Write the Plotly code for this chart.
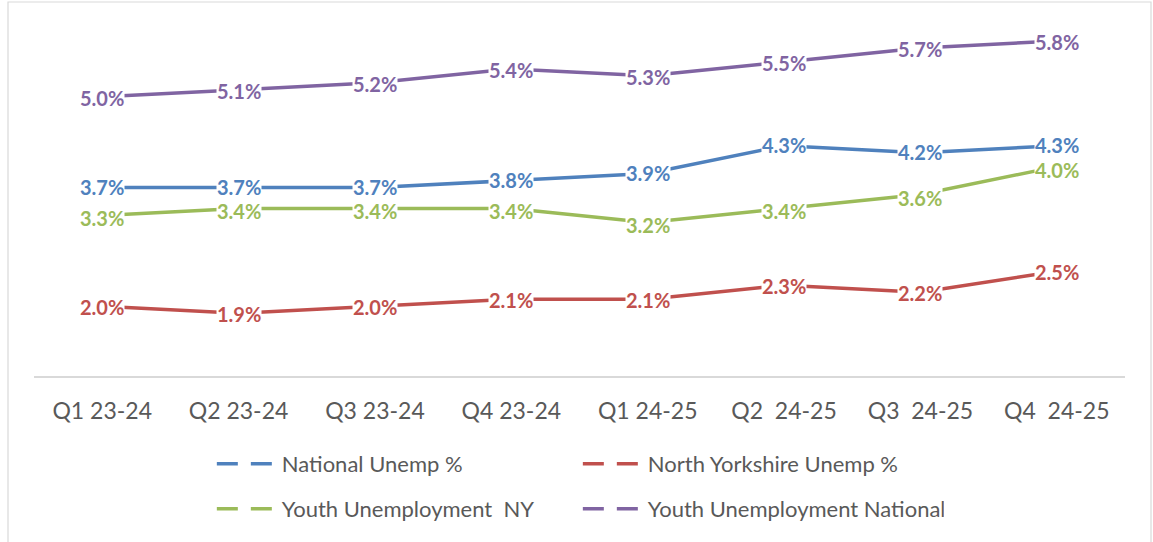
import plotly.graph_objects as go

categories = ["Q1 23-24", "Q2 23-24", "Q3 23-24", "Q4 23-24", "Q1 24-25",
              "Q2  24-25", "Q3  24-25", "Q4  24-25"]
national = [3.7, 3.7, 3.7, 3.8, 3.9, 4.3, 4.2, 4.3]
north_yorks = [2.0, 1.9, 2.0, 2.1, 2.1, 2.3, 2.2, 2.5]
youth_ny = [3.3, 3.4, 3.4, 3.4, 3.2, 3.4, 3.6, 4.0]
youth_nat = [5.0, 5.1, 5.2, 5.4, 5.3, 5.5, 5.7, 5.8]

series = [
    ("National Unemp %", national, "#4F81BD", "legend", 1),
    ("North Yorkshire Unemp %", north_yorks, "#C0504D", "legend", -1),
    ("Youth Unemployment  NY", youth_ny, "#9BBB59", "legend2", -3),
    ("Youth Unemployment National", youth_nat, "#8064A2", "legend2", -1),
]

fig = go.Figure()
annotations = []
for name, vals, color, leg, ys in series:
    fig.add_trace(go.Scatter(x=categories, y=vals, mode="lines", name=name,
                             line=dict(color=color, width=3.5),
                             showlegend=False, hoverinfo="skip"))
    fig.add_trace(go.Scatter(x=[None], y=[None], mode="lines", name=name,
                             line=dict(color=color, width=3.5, dash="21px,13px"),
                             legend=leg, showlegend=True))
    for c, v in zip(categories, vals):
        annotations.append(dict(x=c, y=v, xref="x", yref="y", text=f"{v:.1f}%",
                                showarrow=False, bgcolor="white", borderpad=0,
                                yshift=ys,
                                font=dict(family="Lato", size=20, color=color,
                                          weight="bold")))

legend_common = dict(orientation="h", xanchor="left", yanchor="middle",
                     entrywidth=291, traceorder="normal", itemwidth=60,
                     font=dict(family="Lato", size=22, color="#595959"),
                     bgcolor="rgba(0,0,0,0)")

fig.update_layout(
    width=1153, height=542,
    margin=dict(l=34, r=28, t=27, b=166),
    paper_bgcolor="white", plot_bgcolor="white",
    annotations=annotations,
    xaxis=dict(type="category", range=[-0.5, 7.5], showgrid=False,
               showline=True, linecolor="#D9D9D9", linewidth=1.5,
               ticks="", ticklabelstandoff=14,
               tickfont=dict(family="Lato", size=23, color="#595959"),
               fixedrange=True),
    yaxis=dict(range=[1, 6], showgrid=False, showticklabels=False,
               zeroline=False, showline=False, fixedrange=True),
    legend=dict(x=0.163, y=-0.252, **legend_common),
    legend2=dict(x=0.163, y=-0.381, **legend_common),
    shapes=[dict(type="rect", xref="paper", yref="paper",
                 x0=(8 - 34) / 1091, x1=(1151 - 34) / 1091,
                 y0=-0.49, y1=(376 - 2) / 349,
                 line=dict(color="#D9D9D9", width=1.2), layer="below")],
)

fig.write_html("out.html", config={"displayModeBar": False},
               post_script="document.body.style.margin='0';document.body.style.overflow='hidden';")
